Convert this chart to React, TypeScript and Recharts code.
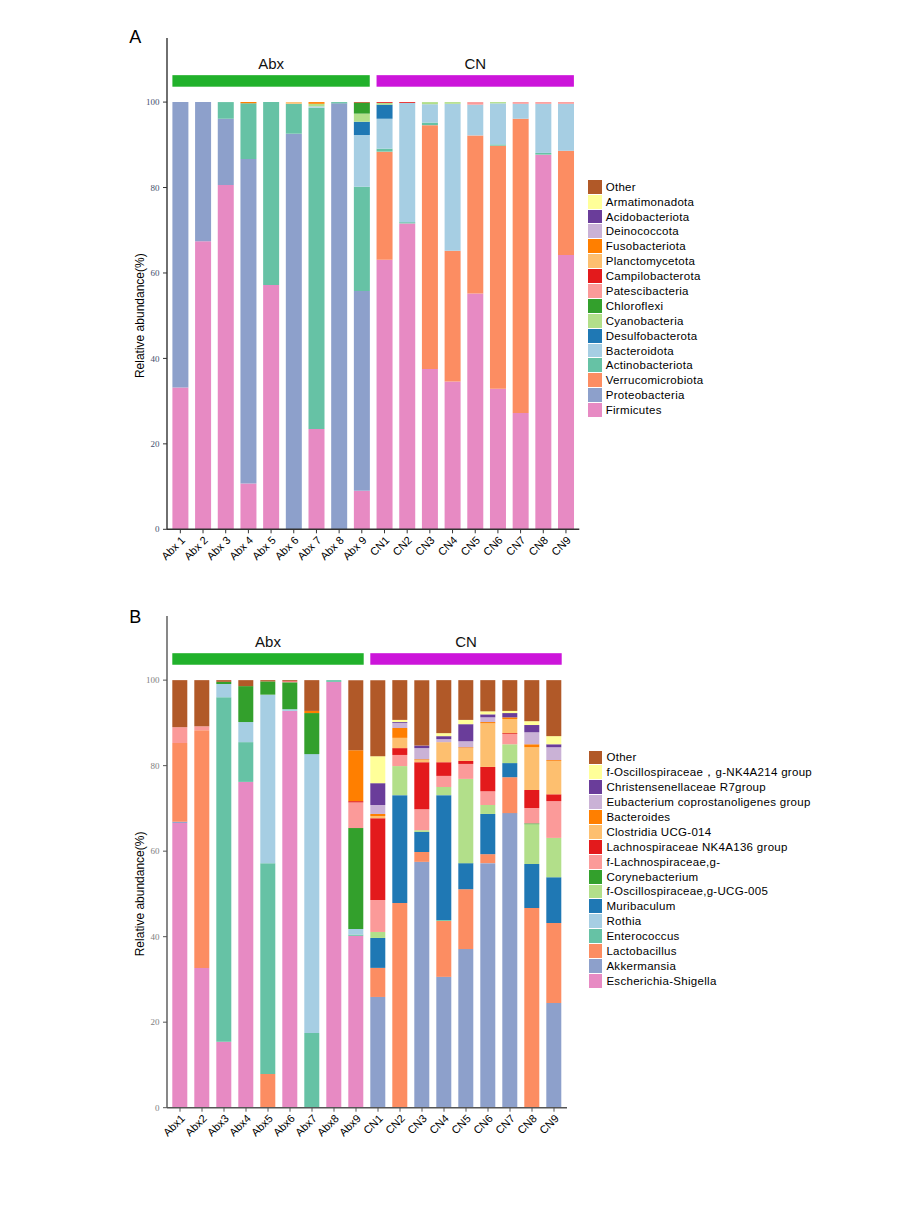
import React from "react";
import { BarChart, Bar, XAxis, YAxis, ReferenceArea, Legend } from "recharts";

const FONT = "'Liberation Sans', Arial, sans-serif";
const SERIF = "'Liberation Serif', 'Times New Roman', serif";

// sample order (panel A labels carry a space, panel B ones do not)
const samplesA = ["Abx 1", "Abx 2", "Abx 3", "Abx 4", "Abx 5", "Abx 6", "Abx 7", "Abx 8", "Abx 9",
  "CN1", "CN2", "CN3", "CN4", "CN5", "CN6", "CN7", "CN8", "CN9"];
const samplesB = ["Abx1", "Abx2", "Abx3", "Abx4", "Abx5", "Abx6", "Abx7", "Abx8", "Abx9",
  "CN1", "CN2", "CN3", "CN4", "CN5", "CN6", "CN7", "CN8", "CN9"];
const groupNames = ["Abx", "CN"];
const yTicks = [0, 20, 40, 60, 80, 100];
const Y_MAX = 115;

// ---- panel A: phylum level, stacked bottom -> top ----
const firmicutes = [33.2, 67.4, 80.6, 10.7, 57.2, 0, 23.5, 0, 9.0, 63.1, 71.6, 37.5, 34.6, 55.2, 32.9, 27.2, 87.7, 64.2];
const proteobacteria = [66.8, 32.6, 15.5, 76.0, 0, 92.6, 0, 99.7, 46.8, 0, 0, 0, 0, 0, 0, 0, 0, 0];
const verrucomicrobiota = [0, 0, 0, 0, 0, 0, 0, 0, 0, 25.3, 0, 57.1, 30.6, 37.0, 56.9, 68.9, 0, 24.4];
const actinobacteriota = [0, 0, 3.9, 13.0, 42.8, 7.0, 75.2, 0.3, 24.4, 0.7, 0.3, 0.6, 0, 0, 0.3, 0, 0.4, 0];
const bacteroidota = [0, 0, 0, 0, 0, 0, 0.3, 0, 12.1, 7.0, 27.9, 4.3, 34.4, 7.2, 9.6, 3.5, 11.5, 11.0];
const desulfobacterota = [0, 0, 0, 0, 0, 0, 0, 0, 3.1, 3.3, 0, 0, 0, 0, 0, 0, 0, 0];
const cyanobacteria = [0, 0, 0, 0, 0, 0, 0.6, 0, 1.9, 0.4, 0, 0.5, 0.4, 0, 0.3, 0, 0, 0];
const chloroflexi = [0, 0, 0, 0, 0, 0, 0, 0, 2.5, 0, 0, 0, 0, 0, 0, 0, 0, 0];
const patescibacteria = [0, 0, 0, 0, 0, 0, 0, 0, 0, 0, 0, 0, 0, 0.6, 0, 0.4, 0.4, 0.4];
const campilobacterota = [0, 0, 0, 0, 0, 0, 0, 0, 0, 0.2, 0.2, 0, 0, 0, 0, 0, 0, 0];
const planctomycetota = [0, 0, 0, 0, 0, 0.4, 0, 0, 0, 0, 0, 0, 0, 0, 0, 0, 0, 0];
const fusobacteriota = [0, 0, 0, 0.3, 0, 0, 0.4, 0, 0, 0, 0, 0, 0, 0, 0, 0, 0, 0];
const deinococcota = [0, 0, 0, 0, 0, 0, 0, 0, 0, 0, 0, 0, 0, 0, 0, 0, 0, 0];
const acidobacteriota = [0, 0, 0, 0, 0, 0, 0, 0, 0, 0, 0, 0, 0, 0, 0, 0, 0, 0];
const armatimonadota = [0, 0, 0, 0, 0, 0, 0, 0, 0, 0, 0, 0, 0, 0, 0, 0, 0, 0];
const otherPhylum = [0, 0, 0, 0, 0, 0, 0, 0, 0.2, 0, 0, 0, 0, 0, 0, 0, 0, 0];

const phylumNames = ["Firmicutes", "Proteobacteria", "Verrucomicrobiota", "Actinobacteriota",
  "Bacteroidota", "Desulfobacterota", "Cyanobacteria", "Chloroflexi", "Patescibacteria",
  "Campilobacterota", "Planctomycetota", "Fusobacteriota", "Deinococcota", "Acidobacteriota",
  "Armatimonadota", "Other"];
const phylumSeries = [firmicutes, proteobacteria, verrucomicrobiota, actinobacteriota,
  bacteroidota, desulfobacterota, cyanobacteria, chloroflexi, patescibacteria,
  campilobacterota, planctomycetota, fusobacteriota, deinococcota, acidobacteriota,
  armatimonadota, otherPhylum];

// ---- panel B: genus level, stacked bottom -> top ----
const escherichia = [66.6, 32.7, 15.4, 76.2, 0, 92.8, 0, 99.6, 40.2, 0, 0, 0, 0, 0, 0, 0, 0, 0];
const akkermansia = [0.3, 0, 0, 0, 0, 0, 0, 0, 0, 25.9, 0, 57.5, 30.6, 37.1, 57.2, 68.9, 0, 24.5];
const lactobacillus = [18.4, 55.6, 0, 0, 7.9, 0, 0, 0, 0, 6.8, 47.9, 2.3, 13.1, 14.0, 2.1, 8.4, 46.7, 18.7];
const enterococcus = [0, 0, 80.6, 9.3, 49.3, 0, 17.5, 0.4, 0.3, 0, 0, 0, 0.2, 0, 0, 0, 0, 0];
const rothia = [0, 0, 3.1, 4.7, 39.4, 0.4, 65.2, 0, 1.3, 0, 0, 0, 0, 0, 0, 0, 0, 0];
const muribaculum = [0, 0, 0, 0, 0, 0, 0, 0, 0, 7.0, 25.2, 4.7, 29.2, 6.1, 9.4, 3.3, 10.3, 10.7];
const ucg005 = [0, 0, 0, 0, 0, 0, 0, 0, 0, 1.4, 6.8, 0.4, 1.9, 19.7, 2.1, 4.4, 9.3, 9.2];
const corynebacterium = [0, 0, 0.5, 8.4, 3.1, 6.3, 9.6, 0, 23.6, 0, 0, 0, 0, 0, 0, 0, 0.2, 0];
const lachnoG = [3.7, 0.9, 0, 0, 0, 0.2, 0, 0, 6.0, 7.5, 2.6, 4.9, 2.6, 3.5, 3.2, 2.4, 3.6, 8.6];
const lachnoNK4A136 = [0, 0, 0, 0, 0, 0.1, 0, 0, 0.3, 19.1, 1.6, 11.0, 3.2, 0.7, 5.7, 0.2, 4.2, 1.6];
const clostridiaUCG014 = [0, 0, 0, 0, 0, 0, 0, 0, 0, 0.5, 2.4, 0.5, 4.7, 3.0, 10.2, 3.3, 10.0, 7.8];
const bacteroides = [0, 0, 0, 0, 0, 0, 0.5, 0, 11.9, 0.5, 2.3, 0.2, 0, 0.2, 0.3, 0.4, 0.7, 0.2];
const eubacterium = [0, 0, 0, 0, 0, 0, 0, 0, 0, 2.1, 1.2, 2.6, 0.7, 1.4, 1.1, 0, 2.8, 3.0];
const christensenellaceae = [0, 0, 0, 0, 0, 0, 0, 0, 0, 5.1, 0.2, 0.6, 0.7, 4.0, 0.7, 1.0, 1.7, 0.7];
const nk4a214 = [0, 0, 0, 0, 0, 0, 0, 0, 0, 6.3, 0.5, 0, 0.7, 1.0, 0.7, 0.5, 0.9, 1.9];
const otherGenus = [11.0, 10.8, 0.4, 1.4, 0.3, 0.2, 7.2, 0, 16.4, 17.8, 9.3, 15.3, 12.4, 9.3, 7.3, 7.2, 9.6, 13.1];

const genusNames = ["Escherichia-Shigella", "Akkermansia", "Lactobacillus", "Enterococcus",
  "Rothia", "Muribaculum", "f-Oscillospiraceae,g-UCG-005", "Corynebacterium",
  "f-Lachnospiraceae,g-", "Lachnospiraceae NK4A136 group", "Clostridia UCG-014", "Bacteroides",
  "Eubacterium coprostanoligenes group", "Christensenellaceae R7group",
  "f-Oscillospiraceae，g-NK4A214 group", "Other"];
const genusSeries = [escherichia, akkermansia, lactobacillus, enterococcus, rothia, muribaculum,
  ucg005, corynebacterium, lachnoG, lachnoNK4A136, clostridiaUCG014, bacteroides, eubacterium,
  christensenellaceae, nk4a214, otherGenus];

// palette, same slot order in both panels
const stackColors = ["#E78AC3", "#8DA0CB", "#FC8D62", "#66C2A5", "#A6CEE3", "#1F78B4", "#B2DF8A",
  "#33A02C", "#FB9A99", "#E31A1C", "#FDBF6F", "#FF7F00", "#CAB2D6", "#6A3D9A", "#FFFF99", "#B15928"];
const groupColors = ["#21B12B", "#CC15DA"];

const SampleTick = (props: any) => {
  const { x, y, payload } = props;
  return (
    <text x={x} y={y} dy="0.71em" transform={`rotate(-45, ${x}, ${y})`} textAnchor="end"
      fontSize={11} fontFamily={FONT} fill="#000">
      {payload.value}
    </text>
  );
};

const yTitle = (props: any) => {
  const vb = props.viewBox;
  const cx = vb.x + 37;
  const cy = vb.y + vb.height * (1 - 50 / Y_MAX); // middle of the 0-100 span
  return (
    <text x={cx} y={cy} transform={`rotate(-90, ${cx}, ${cy})`} textAnchor="middle"
      fontSize={12} fontFamily={FONT} fill="#000">
      Relative abundance(%)
    </text>
  );
};

type PanelProps = {
  top: number;
  height: number;
  plotTop: number;
  plotBottom: number;
  plotRight: number;
  samples: string[];
  names: string[];
  series: number[][];
  axisColor: string;
  tickColor: string;
  legendLeft: number;
  legendTop: number;
  letter: string;
  letterBaseline: number;
};

const StackPanel = ({ top, height, plotTop, plotBottom, plotRight, samples, names, series,
  axisColor, tickColor, legendLeft, legendTop, letter, letterBaseline }: PanelProps) => {
  const data = samples.map((s, i) => {
    const row: Record<string, any> = { sample: s };
    series.forEach((vals, k) => {
      row[`t${k}`] = vals[i];
    });
    return row;
  });

  const groups = groupNames.map((g) => {
    const members = samples.filter((s) => s.startsWith(g));
    return { name: g, first: members[0], last: members[members.length - 1], n: members.length };
  });

  const renderLegend = (props: any) => {
    const items = [...(props.payload || [])].sort(
      (a: any, b: any) => names.indexOf(b.value) - names.indexOf(a.value),
    );
    return (
      <div style={{ fontFamily: FONT, fontSize: 11.5, color: "#000", letterSpacing: 0.3 }}>
        {items.map((it: any) => (
          <div key={it.value} style={{ display: "flex", alignItems: "center", height: 14.9 }}>
            <span style={{ width: 13.4, height: 13.9, background: it.color, marginRight: 4, flex: "none" }} />
            <span style={{ whiteSpace: "nowrap" }}>{it.value}</span>
          </div>
        ))}
      </div>
    );
  };

  return (
    <div style={{ position: "absolute", left: 0, top }}>
      <svg width={40} height={60} style={{ position: "absolute", left: 120, top: 0 }}>
        <text x={9.3} y={letterBaseline} fontSize={18} fontFamily={FONT} fill="#000">{letter}</text>
      </svg>
      <BarChart
        width={916}
        height={height}
        data={data}
        margin={{ top: plotTop, right: 916 - plotRight, left: 107, bottom: height - plotBottom - 40 }}
        barCategoryGap="15%"
      >
        <XAxis
          dataKey="sample"
          interval={0}
          height={40}
          padding={{ left: 2, right: 2 }}
          tick={<SampleTick />}
          tickSize={4}
          tickMargin={2}
          axisLine={{ stroke: axisColor, strokeWidth: 1.4 }}
          tickLine={{ stroke: axisColor }}
        />
        <YAxis
          type="number"
          domain={[0, Y_MAX]}
          ticks={yTicks}
          width={60}
          tickSize={4}
          tickMargin={3.5}
          axisLine={{ stroke: axisColor, strokeWidth: 1.4 }}
          tickLine={{ stroke: axisColor }}
          tick={{ fontSize: 9, fill: tickColor, fontFamily: SERIF }}
          label={yTitle}
        />
        {series.map((_, k) => (
          <Bar
            key={k}
            dataKey={`t${k}`}
            name={names[k]}
            stackId="s"
            fill={stackColors[k]}
            legendType="square"
            isAnimationActive={false}
          />
        ))}
        {groups.map((g, gi) => (
          <ReferenceArea
            key={g.name}
            x1={g.first}
            x2={g.last}
            y1={103.6}
            y2={106.3}
            ifOverflow="visible"
            label={{ value: g.name, position: "top", offset: 6, fontSize: 15, fill: "#111", fontFamily: FONT }}
            shape={(p: any) => {
              const inset = (p.width / g.n) * 0.15;
              return (
                <rect x={p.x + inset} y={p.y} width={p.width - 2 * inset} height={p.height}
                  fill={groupColors[gi]} />
              );
            }}
          />
        ))}
        <Legend
          layout="vertical"
          align="center"
          verticalAlign="middle"
          content={renderLegend}
          wrapperStyle={{ left: legendLeft, top: legendTop, width: 320 }}
        />
      </BarChart>
    </div>
  );
};

export default function App() {
  return (
    <div style={{ position: "relative", width: 916, height: 1208, margin: -8, background: "#fff", fontFamily: FONT }}>
      <StackPanel
        top={0}
        height={580}
        plotTop={38}
        plotBottom={529.3}
        plotRight={579.3}
        samples={samplesA}
        names={phylumNames}
        series={phylumSeries}
        axisColor="#333"
        tickColor="#45506e"
        legendLeft={588.3}
        legendTop={179.3}
        letter="A"
        letterBaseline={43.3}
      />
      <StackPanel
        top={580}
        height={620}
        plotTop={36}
        plotBottom={527.7}
        plotRight={567}
        samples={samplesB}
        names={genusNames}
        series={genusSeries}
        axisColor="#555"
        tickColor="#808080"
        legendLeft={589}
        legendTop={170}
        letter="B"
        letterBaseline={42.7}
      />
    </div>
  );
}
